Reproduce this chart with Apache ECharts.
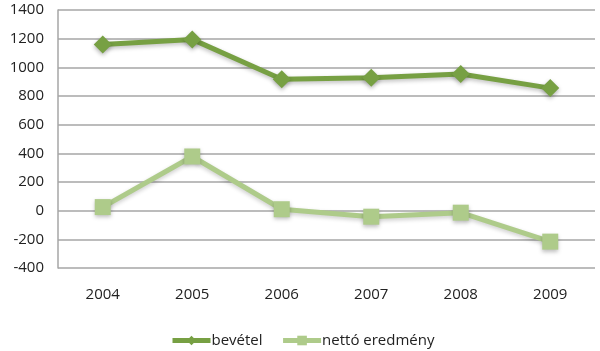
<!DOCTYPE html>
<html>
<head>
<meta charset="utf-8">
<script src="https://cdn.jsdelivr.net/npm/echarts@6/dist/echarts.min.js"></script>
<style>
  html, body { margin: 0; padding: 0; background: #fff; }
  #chart { width: 600px; height: 351px; }
</style>
</head>
<body>
<div id="chart"></div>
<script>
const years = ['2004', '2005', '2006', '2007', '2008', '2009'];
const bevetel = [1160, 1195, 917, 928, 954, 855];
const nettoEredmeny = [25, 378, 10, -42, -14, -216];

const chart = echarts.init(document.getElementById('chart'));

const font = '"Open Sans", "Noto Sans", sans-serif';
const darkGreen = '#77a043';
const lightGreen = '#aecb8a';

chart.setOption({
    backgroundColor: '#fff',
    animation: false,
    textStyle: { fontFamily: font },
    grid: { left: 58, right: 5, top: 10, bottom: 83 },
    legend: {
        bottom: 3,
        left: 170,
        padding: 0,
        itemWidth: 38,
        itemHeight: 12,
        itemGap: 18,
        lineStyle: { width: 5 },
        textStyle: { fontSize: 15, color: '#222', fontFamily: font, padding: [0, 0, 0, -4] },
        data: ['bevétel', 'nettó eredmény']
    },
    xAxis: {
        type: 'category',
        data: years,
        boundaryGap: true,
        axisLine: { show: false },
        axisTick: { show: false },
        axisLabel: { color: '#222', fontSize: 15, margin: 19, fontFamily: font }
    },
    yAxis: {
        type: 'value',
        min: -400,
        max: 1400,
        interval: 200,
        axisLine: { show: true, lineStyle: { color: '#a6a6a6', width: 1.5 } },
        axisTick: { show: false },
        axisLabel: {
            color: '#222', fontSize: 15, margin: 14, fontFamily: font,
            formatter: (v) => String(v)
        },
        splitLine: { lineStyle: { color: '#a6a6a6', width: 1.5 } }
    },
    series: [
        {
            name: 'bevétel',
            type: 'line',
            data: bevetel,
            symbol: 'diamond',
            symbolSize: 18,
            lineStyle: {
                color: darkGreen, width: 5,
                shadowColor: 'rgba(0,0,0,0.25)', shadowBlur: 4, shadowOffsetY: 2
            },
            itemStyle: {
                color: darkGreen,
                shadowColor: 'rgba(0,0,0,0.3)', shadowBlur: 4, shadowOffsetY: 2
            }
        },
        {
            name: 'nettó eredmény',
            type: 'line',
            data: nettoEredmeny,
            symbol: 'rect',
            symbolSize: 16,
            lineStyle: {
                color: lightGreen, width: 5,
                shadowColor: 'rgba(0,0,0,0.2)', shadowBlur: 4, shadowOffsetY: 2
            },
            itemStyle: {
                color: lightGreen,
                shadowColor: 'rgba(0,0,0,0.25)', shadowBlur: 4, shadowOffsetY: 2
            }
        }
    ]
});
</script>
</body>
</html>
